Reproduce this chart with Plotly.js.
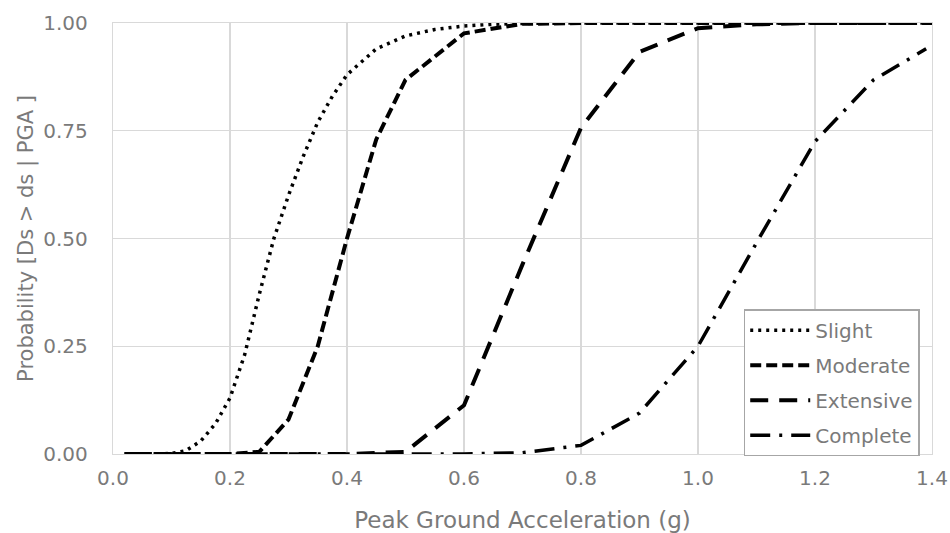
<!DOCTYPE html>
<html>
<head>
<meta charset="utf-8">
<script src="https://cdn.plot.ly/plotly-3.0.1.min.js"></script>
<style>html,body{margin:0;padding:0;background:#fff;}#chart{width:950px;height:533px;}</style>
</head>
<body>
<div id="chart"></div>
<script>
var seriesNames = ["Slight", "Moderate", "Extensive", "Complete"];

var slightX = [0.02,0.05,0.1,0.125,0.15,0.175,0.2,0.225,0.25,0.275,0.3,0.325,0.35,0.375,0.4,0.45,0.5,0.55,0.6,0.65,0.7,0.8,0.9,1.0,1.1,1.2,1.3,1.4];
var slightY = [0,0,0.001,0.008,0.03,0.07,0.13,0.23,0.37,0.5,0.6,0.69,0.77,0.83,0.88,0.94,0.97,0.985,0.993,0.997,0.999,1,1,1,1,1,1,1];

var moderateX = [0.02,0.05,0.1,0.15,0.2,0.25,0.3,0.35,0.4,0.45,0.5,0.6,0.7,0.8,0.9,1.0,1.1,1.2,1.3,1.4];
var moderateY = [0,0,0,0,0,0.005,0.08,0.25,0.5,0.73,0.868,0.976,0.998,1,1,1,1,1,1,1];

var extensiveX = [0.02,0.1,0.2,0.3,0.4,0.5,0.6,0.7,0.8,0.9,1.0,1.1,1.2,1.3,1.4];
var extensiveY = [0,0,0,0,0,0.005,0.113,0.44,0.757,0.933,0.988,0.997,1,1,1];

var completeX = [0.02,0.1,0.2,0.3,0.4,0.5,0.6,0.7,0.8,0.9,1.0,1.1,1.2,1.3,1.39];
var completeY = [0,0,0,0,0,0,0,0.003,0.02,0.095,0.25,0.49,0.725,0.868,0.94];

var xTicks = [0,0.2,0.4,0.6,0.8,1.0,1.2,1.4];
var yTicks = [0,0.25,0.5,0.75,1.0];

var gray = "#7a7a7a";
var fontFam = "DejaVu Sans, sans-serif";

function tr(name, x, y, dash, w, grp) {
  return {type:"scatter", mode:"lines", name:name, x:x, y:y, legendgroup:grp,
    line:{color:"#000", width:w, dash:dash}, hoverinfo:"x+y"};
}

var data = [
  tr(seriesNames[0], slightX, slightY, "3px,5px", 3.5, "g1"),
  tr(seriesNames[1], moderateX, moderateY, "11px,5px", 4, "g2"),
  tr(seriesNames[2], extensiveX, extensiveY, "18px,11px", 4, "g3"),
  tr(seriesNames[3], completeX, completeY, "20px,9px,3px,9px", 3.5, "g4")
];

var layout = {
  width:950, height:533,
  margin:{l:113, r:18, t:23, b:79},
  paper_bgcolor:"#fff", plot_bgcolor:"#fff",
  font:{family:fontFam, color:gray, size:20},
  showlegend:true,
  legend:{x:0.985, y:0.336, xanchor:"right", yanchor:"top",
    bgcolor:"#fff", bordercolor:"#a6a6a6", borderwidth:1.5,
    font:{family:fontFam, size:20, color:gray},
    tracegroupgap:6, traceorder:"grouped", itemwidth:60},
  xaxis:{range:[0,1.4], tickvals:xTicks, ticktext:xTicks.map(function(v){return v.toFixed(1);}),
    showgrid:true, gridcolor:"#d9d9d9", gridwidth:1.3, zeroline:false,
    showline:true, linecolor:"#d9d9d9", linewidth:1.3, mirror:true,
    ticks:"outside", ticklen:6, tickcolor:"rgba(0,0,0,0)",
    tickfont:{family:fontFam, size:20, color:gray},
    title:{text:"Peak Ground Acceleration (g)", font:{family:fontFam, size:23, color:gray}, standoff:27}},
  yaxis:{range:[0,1], tickvals:yTicks, ticktext:yTicks.map(function(v){return v.toFixed(2);}),
    showgrid:true, gridcolor:"#d9d9d9", gridwidth:1.3, zeroline:false,
    showline:true, linecolor:"#d9d9d9", linewidth:1.3, mirror:true,
    ticks:"outside", ticklen:20, tickcolor:"rgba(0,0,0,0)",
    tickfont:{family:fontFam, size:20, color:gray},
    title:{text:"Probability [Ds > ds | PGA ]", font:{family:fontFam, size:21, color:gray}, standoff:3}}
};

Plotly.newPlot("chart", data, layout, {displayModeBar:false, staticPlot:true});
</script>
</body>
</html>
